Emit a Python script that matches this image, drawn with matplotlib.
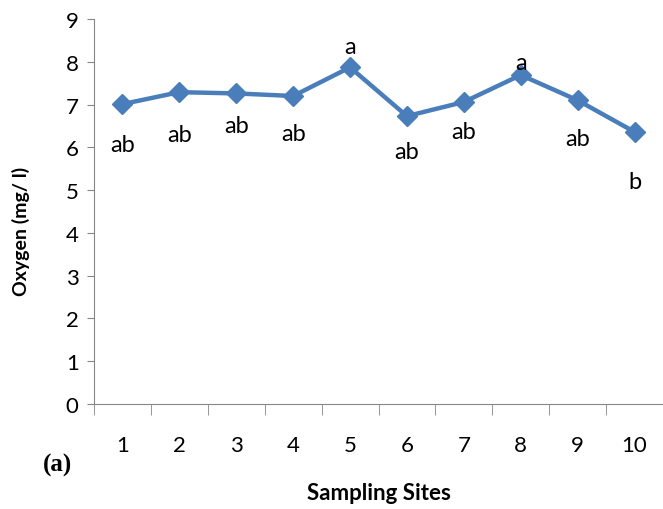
import numpy as np
import matplotlib.pyplot as plt

# Dissolved oxygen per sampling site
sites = list(range(1, 11))
oxygen = [7.01, 7.29, 7.26, 7.20, 7.87, 6.73, 7.06, 7.69, 7.10, 6.36]
letters = ["ab", "ab", "ab", "ab", "a", "ab", "ab", "a", "ab", "b"]
letter_y = [6.07, 6.30, 6.52, 6.33, 8.36, 5.91, 6.38, 7.99, 6.21, 5.21]
y_ticks = list(range(0, 10))

plt.rcParams["font.family"] = ["Lato", "DejaVu Sans"]

fig = plt.figure(figsize=(6.63, 5.10), dpi=100)
ax = fig.add_axes([94 / 663, 1 - 405 / 510, 1 - 94 / 663, (405 - 20) / 510])

ax.plot(sites, oxygen, color="#4a7ebb", linewidth=3.2, marker="D", markersize=10.5,
        markeredgecolor="#4a7ebb", markerfacecolor="#4a7ebb", clip_on=False)

for x, y, s in zip(sites, letter_y, letters):
    ax.text(x, y, s, ha="center", va="center", fontsize=17, color="black")

ax.set_xlim(0.5, 10.3)
ax.set_ylim(0, 9)
ax.set_yticks(y_ticks)
ax.set_xticks(sites)
ax.set_xticks(np.arange(0.5, 11, 1), minor=True)

grey = "#868686"
for side in ["top", "right"]:
    ax.spines[side].set_visible(False)
for side in ["left", "bottom"]:
    ax.spines[side].set_color(grey)

ax.tick_params(axis="y", which="major", length=5, color=grey, labelsize=16, pad=6)
ax.tick_params(axis="x", which="major", length=0, labelsize=16, pad=22)
ax.tick_params(axis="x", which="minor", length=8, color=grey)

ax.set_ylabel("Oxygen (mg/ l)", fontsize=14, fontweight="bold")
ax.yaxis.set_label_coords(-0.112, 0.45)
ax.set_xlabel("Sampling Sites", fontsize=16, fontweight="bold", labelpad=20)

fig.text(58 / 663, 1 - 465 / 510, "(a)", fontsize=18, fontweight="bold",
         family="Liberation Serif", ha="center", va="center")

fig.savefig("out.png", dpi=100)
